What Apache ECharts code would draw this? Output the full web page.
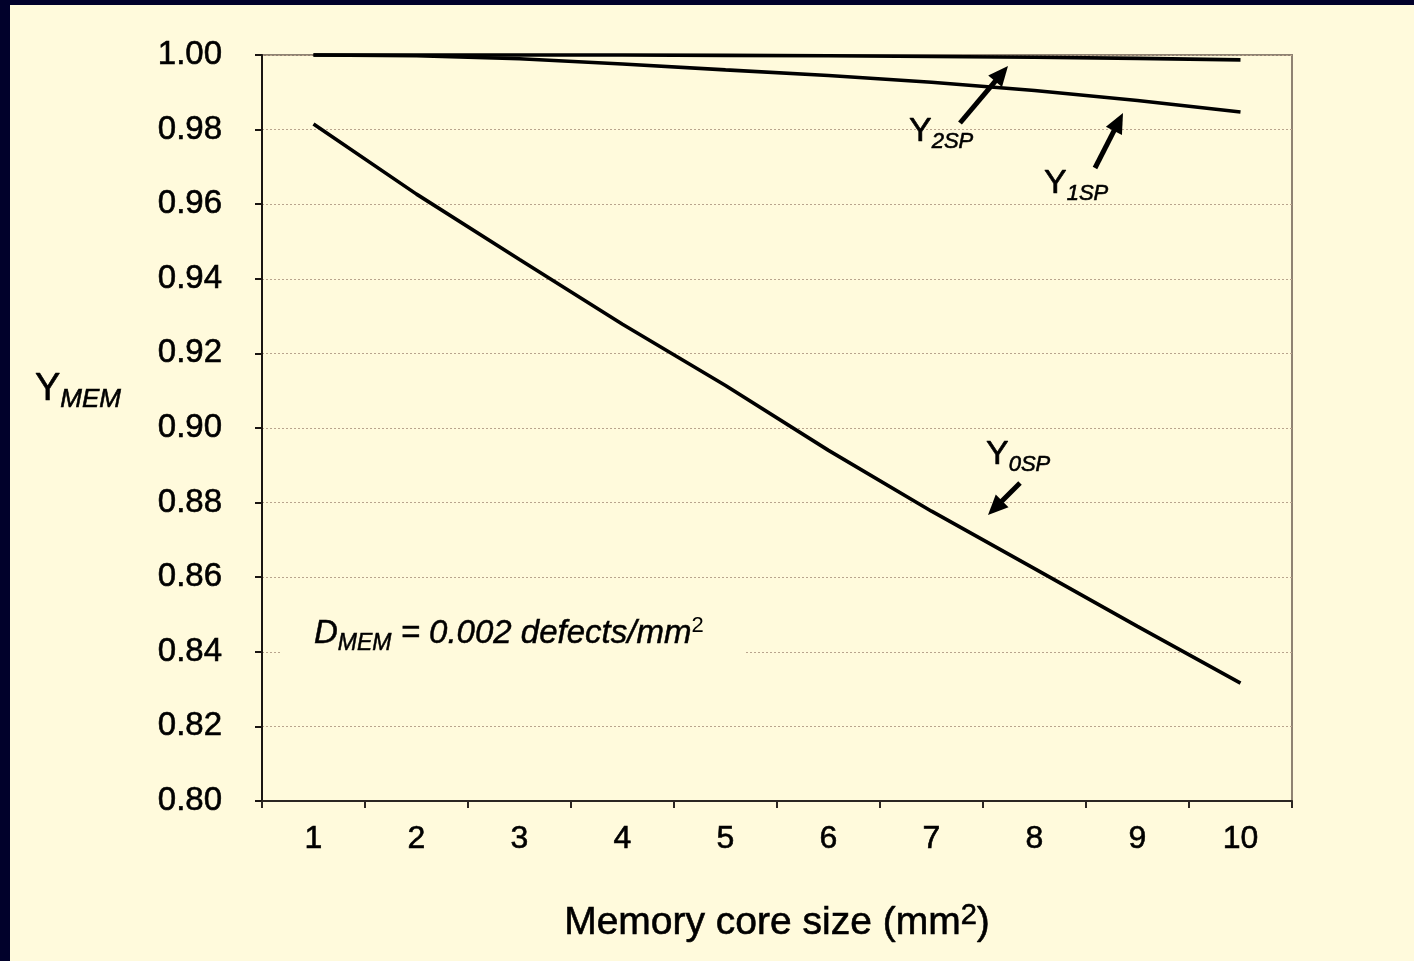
<!DOCTYPE html>
<html>
<head>
<meta charset="utf-8">
<script src="https://cdn.jsdelivr.net/npm/echarts@6/dist/echarts.min.js"></script>
<style>
  html, body { margin: 0; padding: 0; background: #FFFADC; }
  #chart { width: 1414px; height: 961px; }
</style>
</head>
<body>
<div id="chart"></div>
<script>
// memory core size (mm2)
const sizes = ['1', '2', '3', '4', '5', '6', '7', '8', '9', '10'];

// yield curves
const y0sp = [0.9815, 0.9627, 0.9452, 0.9278, 0.9114, 0.8940, 0.8777, 0.8623, 0.8468, 0.8316];
const y1sp = [1.0000, 0.9998, 0.9990, 0.9976, 0.9960, 0.9945, 0.9927, 0.9905, 0.9878, 0.9847];
const y2sp = [1.0000, 1.0000, 1.0000, 1.0000, 0.9999, 0.9998, 0.9996, 0.9994, 0.9991, 0.9987];

const FONT = '"Liberation Sans", Arial, sans-serif';
const INK = { textBorderColor: '#000', textBorderWidth: 0.6 };
const chart = echarts.init(document.getElementById('chart'));

// simple arrow: shaft + head, pixel coords
function arrow(x1, y1, x2, y2) {
  const dx = x2 - x1, dy = y2 - y1;
  const len = Math.sqrt(dx * dx + dy * dy);
  const ux = dx / len, uy = dy / len;
  const hl = 20, hw = 9;
  const bx = x2 - ux * hl, by = y2 - uy * hl;
  return [
    { type: 'line', shape: { x1: x1, y1: y1, x2: bx + ux * 2, y2: by + uy * 2 },
      style: { stroke: '#000', lineWidth: 5 }, z: 10 },
    { type: 'polygon', shape: { points: [[x2, y2], [bx - uy * hw, by + ux * hw], [bx + uy * hw, by - ux * hw]] },
      style: { fill: '#000' }, z: 10 }
  ];
}

function subLabel(x, y, main, sub, mainSize, subSize) {
  return {
    type: 'text', x: x, y: y, z: 10,
    style: {
      text: '{m|' + main + '}{s|' + sub + '}',
      rich: {
        m: { fontFamily: FONT, fontSize: mainSize, fill: '#000', stroke: '#000', lineWidth: 0.6 },
        s: { fontFamily: FONT, fontSize: subSize, fontStyle: 'italic', fill: '#000', stroke: '#000', lineWidth: 0.6,
             padding: [20, 0, 0, 0] }
      },
      verticalAlign: 'middle'
    }
  };
}

const lineStyle = { color: '#000', width: 3.6 };

const option = {
  backgroundColor: '#FFFADC',
  animation: false,
  grid: {
    left: 262, top: 55, right: 122, bottom: 160,
    show: true, borderColor: '#8f8272', borderWidth: 2, backgroundColor: 'transparent'
  },
  xAxis: {
    type: 'category',
    data: sizes,
    boundaryGap: true,
    name: 'Memory core size (mm{sup|2})',
    nameLocation: 'middle',
    nameGap: 100,
    nameTextStyle: Object.assign({
      fontFamily: FONT, fontSize: 39, color: '#000',
      rich: { sup: Object.assign({ fontFamily: FONT, fontSize: 29, color: '#000', padding: [0, 0, 16, 0] }, INK) }
    }, INK),
    axisLine: { lineStyle: { color: '#2b2622', width: 2 } },
    axisTick: { show: true, length: 7, lineStyle: { color: '#2b2622', width: 2 } },
    axisLabel: Object.assign({ fontFamily: FONT, fontSize: 32, color: '#000', margin: 22 }, INK),
    splitLine: { show: false }
  },
  yAxis: {
    type: 'value',
    min: 0.8, max: 1.0, interval: 0.02,
    axisLine: { show: true, lineStyle: { color: '#1a1512', width: 2 } },
    axisTick: { show: true, length: 7, lineStyle: { color: '#1a1512', width: 2 } },
    axisLabel: Object.assign({ fontFamily: FONT, fontSize: 33, color: '#000', margin: 40,
      padding: [4, 0, 0, 0], formatter: v => v.toFixed(2) }, INK),
    splitLine: { show: true, lineStyle: { color: '#b9a48e', width: 1, type: [2, 2] } }
  },
  series: [
    { name: 'Y0SP', type: 'line', data: y0sp, showSymbol: false, lineStyle: lineStyle, clip: false, z: 5 },
    { name: 'Y1SP', type: 'line', data: y1sp, showSymbol: false, lineStyle: lineStyle, clip: false, z: 5 },
    { name: 'Y2SP', type: 'line', data: y2sp, showSymbol: false, lineStyle: lineStyle, clip: false, z: 5 }
  ],
  graphic: [
    // dark frame on the left and top edges
    { type: 'rect', shape: { x: 0, y: 0, width: 10, height: 961 }, style: { fill: '#01012b' }, z: 20 },
    { type: 'rect', shape: { x: 0, y: 0, width: 1414, height: 5 }, style: { fill: '#01012b' }, z: 20 },
    // y axis name
    subLabel(35, 390, 'Y', 'MEM', 38, 26),
    // curve labels
    subLabel(909, 132, 'Y', '2SP', 34, 22),
    subLabel(1044, 184, 'Y', '1SP', 34, 22),
    subLabel(986, 455, 'Y', '0SP', 34, 22),
    ...arrow(960, 123, 1008, 66),
    ...arrow(1095, 168, 1123, 113),
    ...arrow(1020, 483, 988, 515),
    // defect density note, with a box that hides the grid line
    { type: 'rect', shape: { x: 281, y: 612, width: 463, height: 48 }, style: { fill: '#FFFADC' }, z: 8 },
    {
      type: 'text', x: 314, y: 634, z: 10,
      style: {
        text: '{d|D}{s|MEM}{d| = 0.002 defects/mm}{p|2}',
        rich: {
          d: { fontFamily: FONT, fontSize: 33, fontStyle: 'italic', fill: '#000', stroke: '#000', lineWidth: 0.5 },
          s: { fontFamily: FONT, fontSize: 23, fontStyle: 'italic', fill: '#000', stroke: '#000', lineWidth: 0.5,
               padding: [20, 0, 0, 0] },
          p: { fontFamily: FONT, fontSize: 22, fill: '#000', padding: [0, 0, 16, 0] }
        },
        verticalAlign: 'middle'
      }
    }
  ]
};

chart.setOption(option);
</script>
</body>
</html>
